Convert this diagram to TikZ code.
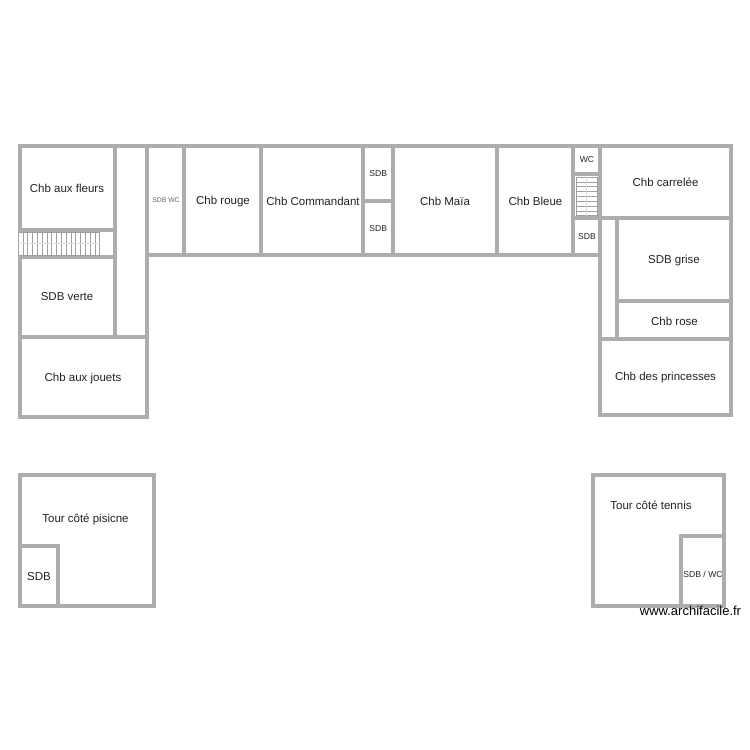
\documentclass[tikz,border=0pt]{standalone}
\usepackage{fontspec}
\setmainfont{Liberation Sans}
\definecolor{wallc}{HTML}{ADADAD}
\definecolor{stairc}{HTML}{A0A0A0}
\definecolor{txtc}{HTML}{222222}
\newcommand{\fs}[1]{\fontsize{#1}{#1}\selectfont}
\tikzset{
  wall/.style={draw=wallc,line width=4pt,line cap=square,line join=miter},
  stairbox/.style={draw=stairc,line width=0.5pt,fill=white},
  tread/.style={draw=stairc,line width=0.5pt},
  axisline/.style={draw=stairc!40,line width=0.5pt},
  lab/.style={text=txtc,inner sep=0pt,yshift=-1.2pt,font=\fs{11.5}},
  smalllab/.style={text=txtc,inner sep=0pt,yshift=-0.6pt,font=\fs{8.6}},
  tinylab/.style={text=black!60,inner sep=0pt,font=\fs{6.8}}
}
\begin{document}
\begin{tikzpicture}[x=1pt,y=-1pt]
\useasboundingbox (0,0) rectangle (750,750);
\fill[white] (0,0) rectangle (750,750);
% left wing
\draw[wall] (19.5,145.5) rectangle (147,416.5);
\draw[wall] (115,145.5) -- (115,336.5);
\draw[wall] (19.5,230) -- (115,230);
\draw[wall] (19.5,256.5) -- (115,256.5);
\draw[wall] (19.5,336.5) -- (147,336.5);
% central wing
\draw[wall] (147,145.5) -- (730.5,145.5);
\draw[wall] (147,255) -- (600,255);
\foreach \x in {184,260.7,363.3,392.7,497,573.3}{\draw[wall] (\x,145.5) -- (\x,255);}
\draw[wall] (363.3,200.7) -- (392.7,200.7);
% right wing
\draw[wall] (600,145.5) rectangle (730.5,414.5);
\draw[wall] (573.3,174.3) -- (600,174.3);
\draw[wall] (573.3,217.5) -- (730.5,217.5);
\draw[wall] (617.3,217.5) -- (617.3,339);
\draw[wall] (617.3,301) -- (730.5,301);
\draw[wall] (600,339) -- (730.5,339);
% towers
\draw[wall] (19.5,475) rectangle (154,605.5);
\draw[wall] (19.5,545.5) -- (58.3,545.5) -- (58.3,605.5);
\draw[wall] (593.3,475) rectangle (724.3,605.5);
\draw[wall] (724.3,536) -- (681,536) -- (681,605.5);
% left stairs
\draw[stairbox] (18,232) rectangle (99.7,255.5);
\foreach \i in {1,...,16}{\draw[tread] ({18+\i*4.8},232) -- ({18+\i*4.8},255.5);}
\draw[axisline] (18,243.7) -- (99.7,243.7);
% right stairs
\draw[stairbox] (576.5,177) rectangle (597,215.7);
\foreach \i in {1,...,7}{\draw[tread] (576.5,{177+\i*4.85}) -- (597,{177+\i*4.85});}
\draw[axisline] (586.7,177) -- (586.7,215.7);
% labels
\node[lab] (fleurs) at (67,187) {Chb aux fleurs};
\node[lab] (verte) at (67,295) {SDB verte};
\node[lab] (jouets) at (83,377) {Chb aux jouets};
\node[tinylab] (sdbwc) at (166,200) {SDB WC};
\node[lab] (rouge) at (223,200) {Chb rouge};
\node[lab] (cmd) at (313,200) {Chb Commandant};
\node[smalllab] (sdba) at (378.3,173) {SDB};
\node[smalllab] (sdbb) at (378.3,228) {SDB};
\node[lab] (maia) at (445,200) {Chb Maïa};
\node[lab] (bleue) at (535.5,200) {Chb Bleue};
\node[smalllab] (wc) at (587,159) {WC};
\node[smalllab] (sdbc) at (587,236) {SDB};
\node[lab] (carrelee) at (665.5,181) {Chb carrelée};
\node[lab] (grise) at (674,259) {SDB grise};
\node[lab] (rose) at (674.5,320) {Chb rose};
\node[lab] (princesses) at (665.5,376) {Chb des princesses};
\node[lab] (piscine) at (85.5,518) {Tour côté pisicne};
\node[lab] (sdbd) at (39,575) {SDB};
\node[lab] (tennis) at (651,504) {Tour côté tennis};
\node[smalllab] (sdbwcb) at (703,574) {SDB / WC};
\node[text=black,inner sep=0pt,font=\fs{13}] (site) at (690.5,611) {www.archifacile.fr};
\end{tikzpicture}
\end{document}
